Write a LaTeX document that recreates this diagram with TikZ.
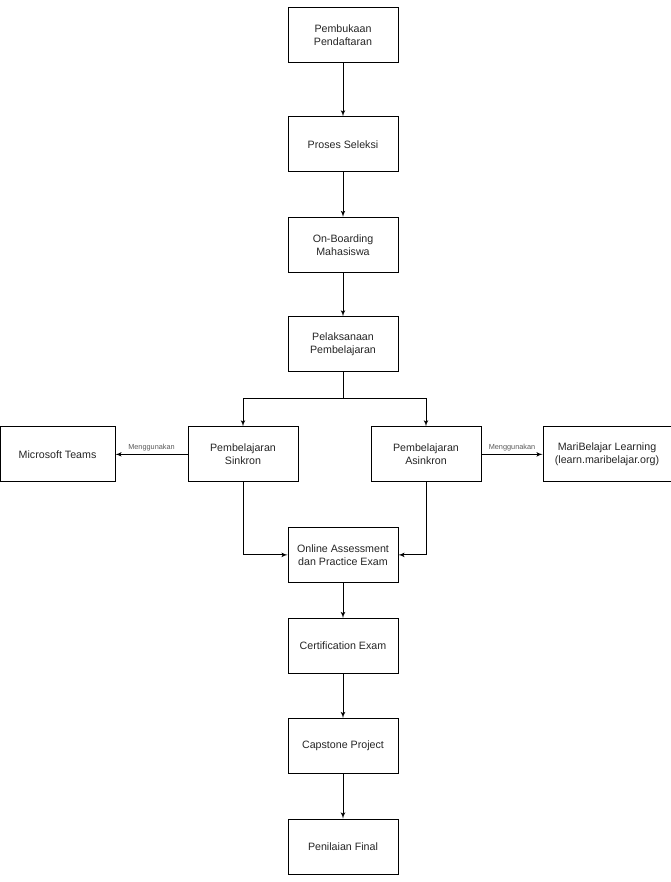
\documentclass[tikz,border=0pt]{standalone}
\usepackage{fontspec}
\setmainfont{Liberation Sans}
\usepackage{tikz}
\usetikzlibrary{arrows, positioning}

\begin{document}
\begin{tikzpicture}[>=latex', align=center, font=\fontsize{8}{10}\selectfont, text=black!85, line width=0.6pt,
  block/.style = {draw, fill=white, rectangle, minimum height=41.25pt, minimum width=82.5pt, inner sep=1pt},
  note/.style = {font=\fontsize{5.5}{6.5}\selectfont, text=black!65, above, inner sep=2pt}]
            \useasboundingbox (0,0) rectangle (503.25pt,-661.5pt);

            % Alur utama
            \node [block] (pembukaan) at (257.25pt,-26.25pt) {Pembukaan\\Pendaftaran};
            \node [block, below of=pembukaan, node distance=82pt] (seleksi) {Proses Seleksi};
            \node [block, below of=seleksi, node distance=75.4pt] (onboarding) {On-Boarding\\Mahasiswa};
            \node [block, below of=onboarding, node distance=74.6pt] (pelaksanaan) {Pelaksanaan\\Pembelajaran};
            \coordinate [below of=pelaksanaan, node distance=40.9pt] (cabang);

            % Dua jalur pembelajaran
            \node [block, on grid, below left=82.5pt and 75pt of pelaksanaan] (sinkron) {Pembelajaran\\Sinkron};
            \node [block, on grid, below right=82.5pt and 62.25pt of pelaksanaan] (asinkron) {Pembelajaran\\Asinkron};
            \node [block, left of=sinkron, node distance=139.1pt, minimum width=86.25pt] (teams) {Microsoft Teams};
            \node [block, right of=asinkron, node distance=135.75pt, minimum width=96pt] (mari) {MariBelajar Learning\\(learn.maribelajar.org)};

            \node [block, below of=pelaksanaan, node distance=157.9pt] (online) {Online Assessment\\dan Practice Exam};
            \node [block, below of=online, node distance=68.3pt] (sertifikasi) {Certification Exam};
            \node [block, below of=sertifikasi, node distance=75pt] (capstone) {Capstone Project};
            \node [block, below of=capstone, node distance=75.4pt] (penilaian) {Penilaian Final};

            \draw [->] (pembukaan) -- (seleksi);
            \draw [->] (seleksi) -- (onboarding);
            \draw [->] (onboarding) -- (pelaksanaan);
            \draw (pelaksanaan) -- (cabang);
            \draw [->] (cabang) -| (sinkron);
            \draw [->] (cabang) -| (asinkron);
            \draw [->] (sinkron) -- node [note] {Menggunakan} (teams);
            \draw [->] (asinkron) -- node [note] {Menggunakan} (mari);
            \draw [->] (sinkron) |- (online);
            \draw [->] (asinkron) |- (online);
            \draw [->] (online) -- (sertifikasi);
            \draw [->] (sertifikasi) -- (capstone);
            \draw [->] (capstone) -- (penilaian);
        \end{tikzpicture}
\end{document}
